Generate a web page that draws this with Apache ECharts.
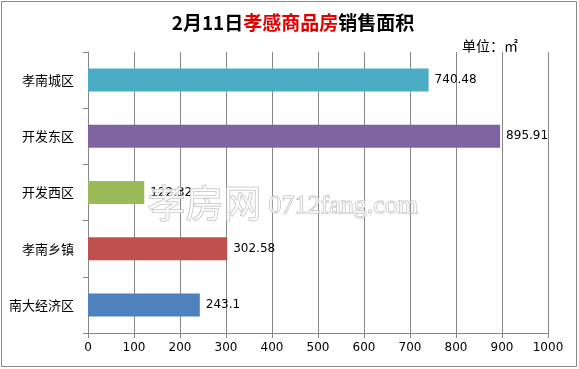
<!DOCTYPE html>
<html><head><meta charset="utf-8">
<script src="https://cdn.jsdelivr.net/npm/echarts@6/dist/echarts.min.js"></script>
<style>html,body{margin:0;padding:0;background:#fff}#c{width:579px;height:369px}</style>
</head><body><div id="c"></div>
<script>
const categories = ['孝南城区','开发东区','开发西区','孝南乡镇','南大经济区'];
const values = [740.48, 895.91, 122.32, 302.58, 243.1];
const colors = ['#4BACC6','#8064A2','#9BBB59','#C0504D','#4F81BD'];
const xTicks = [0,100,200,300,400,500,600,700,800,900,1000];

const chart = echarts.init(document.getElementById('c'));
chart.setOption({
  animation:false,
  backgroundColor:'#fff',
  title:{
    text:'{a|2月11日}{b|孝感商品房}{a|销售面积}',
    left:288, top:8, textAlign:'center',
    textStyle:{rich:{
      a:{fontSize:19,fontWeight:'bold',color:'#000',fontFamily:'Noto Sans CJK SC'},
      b:{fontSize:19,fontWeight:'bold',color:'#E00000',fontFamily:'Noto Sans CJK SC'}
    }}
  },
  graphic:[
    {type:'rect',shape:{x:1.5,y:1.5,width:575,height:365},style:{fill:'none',stroke:'#888',lineWidth:1}},
    {type:'text',left:462,top:39,style:{text:'单位：㎡',font:'14px "Noto Sans CJK SC"',fill:'#000'}},
    {type:'text',left:147,top:183,z:10,style:{text:'孝房网',font:'38px "Noto Sans CJK SC"',fill:'rgba(255,255,255,0.7)',stroke:'#b4b4b4',lineWidth:1}},
    {type:'text',left:268,top:193,z:10,style:{text:'0712fang.com',font:'26px "Liberation Serif"',fill:'rgba(255,255,255,0.7)',stroke:'#b4b4b4',lineWidth:1}}
  ],
  grid:{left:88,right:31,top:52,bottom:36,containLabel:false},
  xAxis:{
    type:'value',min:0,max:1000,interval:100,
    axisLine:{show:true,lineStyle:{color:'#868686'}},
    axisTick:{show:true,length:5,lineStyle:{color:'#868686'}},
    splitLine:{show:true,lineStyle:{color:'#868686'}},
    axisLabel:{color:'#000',fontSize:12,margin:9,fontFamily:'DejaVu Sans',
      formatter:v=>xTicks.includes(v)?String(v):''}
  },
  yAxis:{
    type:'category',data:categories,inverse:true,
    axisLine:{show:true,lineStyle:{color:'#868686'}},
    axisTick:{show:true,length:5,lineStyle:{color:'#868686'}},
    axisLabel:{color:'#000',fontSize:13,margin:14,fontFamily:'Noto Sans CJK SC'}
  },
  series:[{
    type:'bar',barWidth:'41%',
    data:values.map((v,i)=>({value:v,itemStyle:{color:colors[i]}})),
    label:{show:true,position:'right',distance:6,color:'#000',fontSize:12,fontFamily:'DejaVu Sans',
      formatter:p=>String(p.value)}
  }]
});
</script></body></html>
